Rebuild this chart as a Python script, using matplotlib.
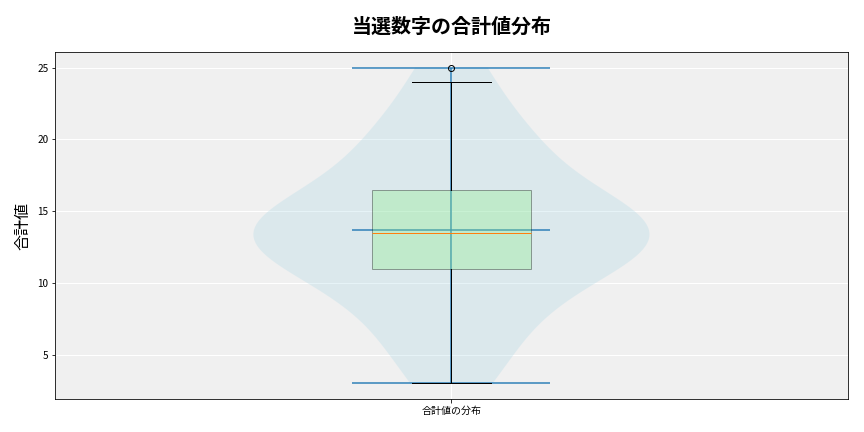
import numpy as np
import matplotlib.pyplot as plt

plt.rcParams['font.family'] = ['Noto Sans CJK JP', 'DejaVu Sans']

# 当選数字の合計値 (値ごとの出現回数)
sum_values = [3, 4, 6, 7, 8, 9, 10, 11, 12, 13, 14, 15, 17, 18, 19, 20, 21, 24, 25]
sum_counts = [1, 1, 1, 1, 1, 1, 1, 2, 2, 4, 3, 4, 1, 1, 1, 2, 1, 1, 1]
category_label = '合計値の分布'

data = np.repeat(sum_values, sum_counts)

fig, ax = plt.subplots(figsize=(12, 6), dpi=72)
ax.set_facecolor('#f0f0f0')
ax.grid(True, color='white', linewidth=1)
ax.set_axisbelow(True)

vp = ax.violinplot([data], positions=[1], widths=0.5, showmeans=True, showextrema=True)
for body in vp['bodies']:
    body.set_facecolor('lightblue')
    body.set_edgecolor('none')
    body.set_alpha(0.3)
for key in ['cmeans', 'cmaxes', 'cmins', 'cbars']:
    vp[key].set_color('#1f77b4')
    vp[key].set_alpha(0.7)
    vp[key].set_linewidth(2)

bp = ax.boxplot([data], positions=[1], widths=0.2, patch_artist=True,
                boxprops=dict(facecolor='lightgreen', alpha=0.35))

ax.set_xticks([1])
ax.set_xticklabels([category_label])
ax.set_xlim(0.5, 1.5)
ax.tick_params(labelsize=10)

ax.set_title('当選数字の合計値分布', fontsize=20, fontweight='bold', pad=19)
ax.set_ylabel('合計値', fontsize=16, labelpad=6)

plt.subplots_adjust(left=0.064, right=0.981, top=0.88, bottom=0.076)
plt.savefig('out.png', dpi=72)
